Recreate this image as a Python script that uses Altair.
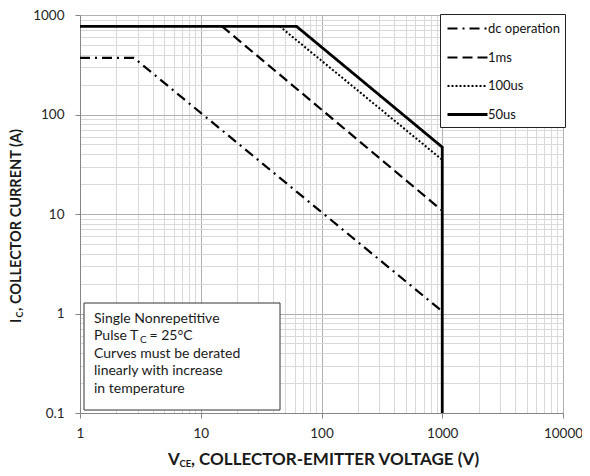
import altair as alt
import pandas as pd

# ---- data ----
series = ["dc operation", "1ms", "100us", "50us"]
dc_vce = [1, 2.8, 1000]
dc_ic = [370, 370, 1.05]
ms1_vce = [15, 1000]
ms1_ic = [770, 10.8]
us100_vce = [45, 1000]
us100_ic = [770, 35]
us50_vce = [1, 62, 1000, 1000]
us50_ic = [770, 770, 47, 0.1]

x_decades = [1, 10, 100, 1000, 10000]
y_decades = [0.1, 1, 10, 100, 1000]

note_first = "Single Nonrepetitive"
note_pulse = "Pulse T"
note_sub = "C"
note_temp = "= 25°C"
note_rest = ["Curves must be derated", "linearly with increase", "in temperature"]

x_title = ["V", "CE", ", COLLECTOR-EMITTER VOLTAGE (V)"]
y_title = ["I", "C", ", COLLECTOR CURRENT (A)"]

# ---- styles ----
dashes = [[10, 5, 2, 5], [10, 5], [2, 2], [1, 0]]
widths = [2.2, 2.2, 2.0, 2.8]
FONT = "Lato"

rows = []
for name, vs, cs in zip(series, [dc_vce, ms1_vce, us100_vce, us50_vce],
                        [dc_ic, ms1_ic, us100_ic, us50_ic]):
    for k, (v, c) in enumerate(zip(vs, cs)):
        rows.append({"series": name, "vce": v, "ic": c, "idx": k})
df = pd.DataFrame(rows)

def grid_values(decades):
    vals = set()
    for d in decades[:-1]:
        for m in range(1, 10):
            vals.add(round(m * d, 6))
    vals.add(decades[-1])
    return sorted(vals)

MAJOR = "abs(log(datum.value)/LN10 - round(log(datum.value)/LN10)) < 0.001"
LABEL = MAJOR + " ? format(datum.value, '~g') : ''"

def make_axis(vals):
    return alt.Axis(
        values=vals,
        labelExpr=LABEL,
        labelOverlap=False,
        labelFlush=False,
        gridColor={"condition": {"test": MAJOR, "value": "#b0b0b0"}, "value": "#d9d9d9"},
        tickColor={"condition": {"test": MAJOR, "value": "#868686"}, "value": "transparent"},
        title=None,
    )

legend = alt.Legend(
    title=None, orient="none", legendX=360, legendY=-1,
    symbolType="M-2.5,0H2.5", symbolSize=256, symbolStrokeColor="black",
    symbolFillColor="transparent", symbolOffset=13,
    labelFont=FONT, labelFontSize=13, labelColor="#111", labelOffset=11,
    padding=5, strokeColor="#222", fillColor="white", rowPadding=12,
)

lines = alt.Chart(df).mark_line(color="black").encode(
    x=alt.X("vce:Q", scale=alt.Scale(type="log", domain=[1, 10000]), axis=make_axis(grid_values(x_decades))),
    y=alt.Y("ic:Q", scale=alt.Scale(type="log", domain=[0.1, 1000]), axis=make_axis(grid_values(y_decades))),
    strokeDash=alt.StrokeDash("series:N", scale=alt.Scale(domain=series, range=dashes), legend=legend),
    strokeWidth=alt.StrokeWidth("series:N", scale=alt.Scale(type="ordinal", domain=series, range=widths), legend=legend),
    order="idx:Q",
)

one = alt.Data(values=[{"k": 0}])

box = alt.Chart(one).mark_rect(fill="white", stroke="#333", strokeWidth=1).encode(
    x=alt.value(4), x2=alt.value(200), y=alt.value(288), y2=alt.value(395)
)

def txt(text, x, y, size=14, bold=False, align="left", angle=0):
    kw = dict(font=FONT, fontSize=size, align=align, baseline="alphabetic", color="#1a1a1a")
    if bold:
        kw["fontWeight"] = "bold"
    if angle:
        kw["angle"] = angle
    return alt.Chart(one).mark_text(**kw).encode(
        x=alt.value(x), y=alt.value(y), text=alt.value(text)
    )

note_layers = [
    txt(note_first, 14, 308),
    txt(note_pulse, 14, 325.4),
    txt(note_sub, 60, 328.4, size=10),
    txt(note_temp, 69.5, 325.4),
    alt.Chart(one).mark_text(font=FONT, fontSize=14, align="left", baseline="alphabetic",
                             color="#1a1a1a", lineHeight=17.4).encode(
        x=alt.value(14), y=alt.value(342.8), text=alt.value(note_rest)),
]

title_layers = [
    txt(x_title[0], 88, 450, size=17, bold=True),
    txt(x_title[1], 99.5, 451.5, size=9.5, bold=True),
    txt(x_title[2], 111, 450, size=17, bold=True),
    txt(y_title[0], -59, 308, size=14.5, bold=True, angle=270),
    txt(y_title[1], -57.5, 302.5, size=9, bold=True, angle=270),
    txt(y_title[2], -59, 296, size=14.5, bold=True, angle=270),
]

chart = alt.layer(lines, box, *note_layers, *title_layers).properties(
    width=483, height=398,
    autosize=alt.AutoSizeParams(type="none"),
    padding={"left": 72, "top": 7, "right": 19, "bottom": 55},
).configure_view(strokeWidth=0).configure_axis(
    domainColor="#868686", tickSize=5, labelFont=FONT, labelFontSize=13.5,
    labelColor="#262626", labelPadding=8,
).configure_axisY(labelPadding=11)

chart.save("out.html", embed_options={"renderer": "svg", "actions": False})
